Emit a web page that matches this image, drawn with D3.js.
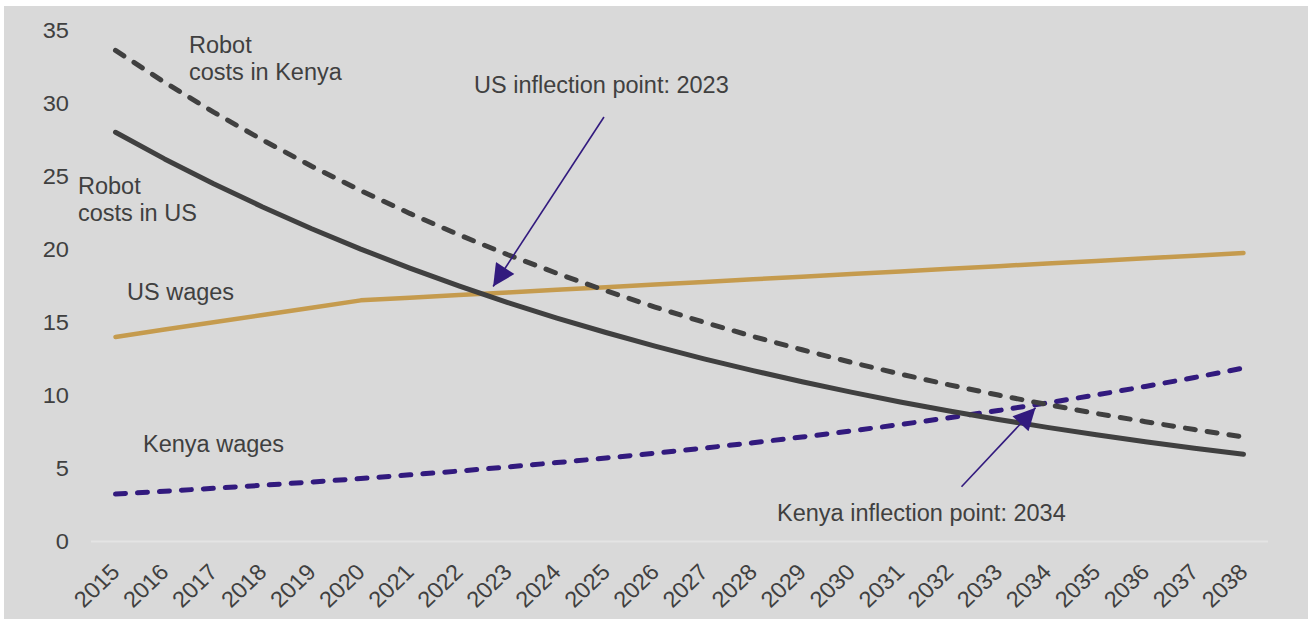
<!DOCTYPE html>
<html>
<head>
<meta charset="utf-8">
<script src="https://cdn.jsdelivr.net/npm/d3@7"></script>
<style>
  html, body { margin: 0; padding: 0; background: #ffffff; }
  svg { display: block; }
  text { font-family: "Liberation Sans", Arial, sans-serif; fill: #404040; }
</style>
</head>
<body>
<svg id="chart" width="1308" height="619"></svg>
<script>
// Years on the category axis
const years = d3.range(2015, 2039);
const yTicks = [0, 5, 10, 15, 20, 25, 30, 35];

// Hourly cost series (USD)
const robotCostsUS    = [28.0, 26.18, 24.48, 22.89, 21.40, 20.01, 18.71, 17.49, 16.35, 15.29, 14.30, 13.37,
                         12.50, 11.69, 10.93, 10.22, 9.55, 8.93, 8.35, 7.81, 7.30, 6.83, 6.38, 5.97];
const robotCostsKenya = [33.6, 31.42, 29.38, 27.47, 25.68, 24.01, 22.45, 20.99, 19.62, 18.35, 17.16, 16.04,
                         15.00, 14.03, 13.12, 12.26, 11.46, 10.72, 10.02, 9.37, 8.76, 8.20, 7.66, 7.16];
const wagesUS         = [14.0, 14.5, 15.0, 15.5, 16.0, 16.5, 16.68, 16.86, 17.04, 17.22, 17.40, 17.58,
                         17.76, 17.94, 18.12, 18.30, 18.48, 18.66, 18.84, 19.02, 19.20, 19.38, 19.56, 19.74];
const wagesKenya      = [3.25, 3.44, 3.64, 3.85, 4.07, 4.31, 4.56, 4.82, 5.10, 5.40, 5.71, 6.04,
                         6.39, 6.76, 7.15, 7.57, 8.00, 8.47, 8.96, 9.48, 10.03, 10.61, 11.22, 11.87];

// Arrow annotations: [tailYear, tailValue, tipYear, tipValue]
const usArrow    = [2024.96, 29.05, 2022.7, 17.45];
const kenyaArrow = [2032.25, 3.75, 2033.76, 9.15];

const svg = d3.select("#chart");
const W = 1308, H = 619;

// Panel background
svg.append("rect").attr("x", 4).attr("y", 6).attr("width", W - 4).attr("height", H - 6)
  .attr("fill", "#d9d9d9");

const x = d3.scaleLinear().domain([2015, 2038]).range([115.5, 1243.5]);
const y = d3.scaleLinear().domain([0, 35]).range([541.5, 30]);

// Baseline at zero
svg.append("line")
  .attr("x1", 91).attr("x2", 1268)
  .attr("y1", y(0)).attr("y2", y(0))
  .attr("stroke", "#e4e4e4").attr("stroke-width", 2);

const tickFont = "22.5px";

// Y axis labels
const yAxis = svg.append("g").attr("transform", "translate(69,0)")
  .call(d3.axisLeft(y).tickValues(yTicks).tickSize(0).tickPadding(0));
yAxis.select(".domain").remove();
yAxis.selectAll(".tick").attr("transform", null);
yAxis.selectAll("text")
  .attr("x", null).attr("dy", null).attr("y", 0)
  .attr("dominant-baseline", "central")
  .attr("transform", d => `translate(0,${y(d)}) scale(1.05,1)`)
  .style("font-size", tickFont).style("font-family", "Liberation Sans, Arial, sans-serif")
  .attr("fill", "#404040");

// X axis labels (rotated)
const xAxis = svg.append("g").attr("transform", `translate(0,${y(0)})`)
  .call(d3.axisBottom(x).tickValues(years).tickFormat(d3.format("d")).tickSize(0).tickPadding(0));
xAxis.select(".domain").remove();
xAxis.selectAll("text")
  .attr("y", 0).attr("dy", null)
  .attr("text-anchor", "end")
  .attr("transform", "translate(5,32) scale(1.05,1) rotate(-45)")
  .style("font-size", tickFont).style("font-family", "Liberation Sans, Arial, sans-serif")
  .attr("fill", "#404040");

const line = d3.line().x((d, i) => x(years[i])).y(d => y(d));

const series = [
  { values: wagesUS,         color: "#c59b4e", width: 4.5, dash: null },
  { values: wagesKenya,      color: "#321a7e", width: 5,   dash: "10,12" },
  { values: robotCostsKenya, color: "#404040", width: 5,   dash: "10,12" },
  { values: robotCostsUS,    color: "#404040", width: 5,   dash: null }
];

svg.append("g").selectAll("path").data(series).join("path")
  .attr("d", s => line(s.values))
  .attr("fill", "none")
  .attr("stroke", s => s.color)
  .attr("stroke-width", s => s.width)
  .attr("stroke-linecap", "round")
  .attr("stroke-linejoin", "round")
  .attr("stroke-dasharray", s => s.dash);

// Arrows
const defs = svg.append("defs");
defs.append("marker")
  .attr("id", "arrowHead")
  .attr("viewBox", "0 0 10 10")
  .attr("refX", 10).attr("refY", 5)
  .attr("markerUnits", "userSpaceOnUse")
  .attr("markerWidth", 26).attr("markerHeight", 22)
  .attr("orient", "auto")
  .append("path").attr("d", "M0,0 L10,5 L0,10 Z").attr("fill", "#321a7e");

svg.append("g").selectAll("line").data([usArrow, kenyaArrow]).join("line")
  .attr("x1", d => x(d[0])).attr("y1", d => y(d[1]))
  .attr("x2", d => x(d[2])).attr("y2", d => y(d[3]))
  .attr("stroke", "#321a7e").attr("stroke-width", 1.6)
  .attr("marker-end", "url(#arrowHead)");

// Series and annotation labels
const labels = [
  { text: "Robot", x: 189, y: 53 },
  { text: "costs in Kenya", x: 189, y: 80 },
  { text: "Robot", x: 78, y: 194 },
  { text: "costs in US", x: 78, y: 221 },
  { text: "US wages", x: 127, y: 300 },
  { text: "Kenya wages", x: 143, y: 452 },
  { text: "US inflection point: 2023", x: 474, y: 93 },
  { text: "Kenya inflection point: 2034", x: 777, y: 521 }
];
svg.append("g").selectAll("text").data(labels).join("text")
  .attr("x", d => d.x).attr("y", d => d.y)
  .style("font-size", "23.5px")
  .text(d => d.text);
</script>
</body>
</html>
